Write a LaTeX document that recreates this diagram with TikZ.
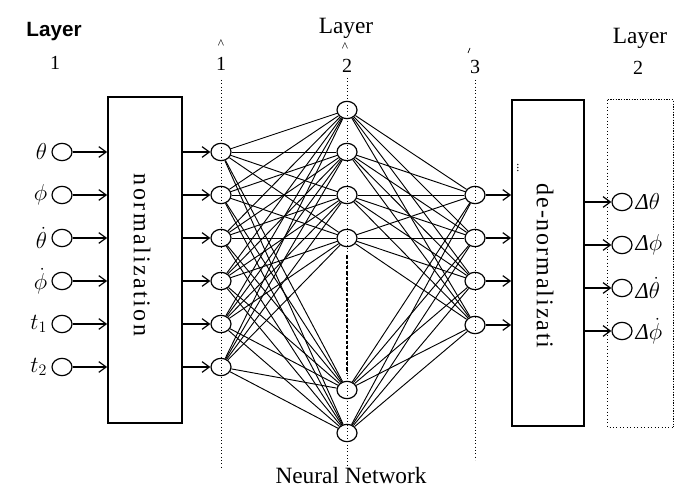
\documentclass[tikz,border=0pt]{standalone}
\usepackage{fontspec}
\setmainfont{Liberation Serif}
\newfontfamily\headsans{Liberation Sans}
\usetikzlibrary{arrows.meta,shapes.geometric,positioning}

\begin{document}
\begin{tikzpicture}[x=0.75pt,y=-0.75pt,
  unit/.style={ellipse, draw, line width=0.9pt, minimum width=15pt,
    minimum height=13pt, inner sep=0pt},
  link/.style={line width=0.7pt},
  feed/.style={line width=1.1pt,
    -{Straight Barb[length=5.5pt,width=8pt,line width=0.9pt]}},
  block/.style={draw, line width=1.3pt, inner sep=0pt},
  frame/.style={densely dotted, line width=1pt},
  lightframe/.style={dotted, line width=0.6pt},
  guide/.style={dotted, line width=0.5pt},
  skipdash/.style={line width=1.4pt, dash pattern=on 2.5pt off 1.5pt},
  big/.style={font=\fontsize{17.5}{20}\selectfont},
  digit/.style={font=\fontsize{15}{17}\selectfont},
  hatmark/.style={font=\fontsize{10}{10}\selectfont, inner sep=0pt},
  var/.style={font=\fontsize{17}{17}\selectfont, inner sep=0pt},
  boxtext/.style={rotate=-90, font=\fontsize{18}{20}\selectfont}
]
\useasboundingbox (0,0) rectangle (682,488);

% ---- headings ----
\node[font=\headsans\bfseries\fontsize{15.5}{18}\selectfont] (hl) at (54,32) {Layer};
\node[digit] (hl1) at (55,63) {1};
\node[big] (hc) at (346,28) {Layer};
\node[digit] (h1) at (221,64) {1};
\node[hatmark] (h1hat) at (221,44) {\^{}};
\node[digit] (h2) at (347,66) {2};
\node[hatmark] (h2hat) at (345,47) {\^{}};
\node[digit] (h3) at (475,67) {3};
\draw[line width=0.5pt] (468,53) -- (470,48);
\node[big] (hr) at (640,38) {Layer};
\node[digit] (hr2) at (638,68) {2};
\node[big] (nn) at (351,476) {Neural Network};

% ---- layer guide lines ----
\coordinate (g1t) at (221,80);  \coordinate (g1b) at (221,468);
\coordinate (g2t) at (347,78);  \coordinate (g2b) at (347,468);
\coordinate (g3t) at (475,80);  \coordinate (g3b) at (475,460);
\draw[guide] (g1t) -- (g1b);
\draw[guide] (g2t) -- (g2b);
\draw[guide] (g3t) -- (g3b);

% ---- input / output frames ----
\node[frame, minimum width=45pt, minimum height=242.25pt, inner sep=0pt] (inframe) at (48,258.5) {};
\node[minimum width=48.75pt, minimum height=245.25pt, inner sep=0pt] (outframe) at (640.5,263.5) {};
\draw[lightframe] (outframe.north west) -- (outframe.south west) -- (outframe.south east);
\draw[frame] (outframe.north west) -- (outframe.north east) -- (outframe.south east);

% ---- scaling blocks ----
\node[block, minimum width=55.5pt, minimum height=244.5pt] (norm) at (145,260) {};
\node[boxtext] (normtext) at (142,255) {\addfontfeature{LetterSpace=10}normalization};
\node[block, minimum width=54pt, minimum height=244.5pt] (denorm) at (548,263) {};
\node[boxtext] (denormtext) at (545,266) {\addfontfeature{LetterSpace=8}de-normalizati};
\node[rotate=-90, font=\fontsize{9}{9}\selectfont, inner sep=0pt] (denormdots) at (518,168) {...};

% ---- inputs ----
\foreach \i/\y/\lab in {1/152/\theta, 2/195/\phi, 3/238/\dot{\theta}, 4/281/\dot{\phi}, 5/324/t_1, 6/367/t_2}{
  \node[unit] (in\i) at (62,\y) {};
  \node[var, left=3pt of in\i] (inl\i) {$\lab$};
  \draw[feed] (in\i) -- (in\i -| norm.west);
}

% ---- hidden layers ----
\foreach \i/\y in {1/152, 2/195, 3/238, 4/281, 5/324, 6/367}{
  \node[unit] (a\i) at (221,\y) {};
  \draw[feed] (a\i -| norm.east) -- (a\i);
}
\foreach \j/\y in {1/110, 2/152, 3/195, 4/238, 5/390, 6/433}{
  \node[unit] (b\j) at (347,\y) {};
}
\foreach \k/\y in {1/195, 2/238, 3/281, 4/325}{
  \node[unit] (c\k) at (475,\y) {};
  \draw[feed] (c\k) -- (c\k -| denorm.west);
}
\draw[skipdash, shorten <=6pt, shorten >=6pt] (b4.south) -- (b5.north);

\foreach \i in {1,...,6}{
  \foreach \j in {1,...,6}{
    \draw[link] (a\i) -- (b\j);
  }
}
\foreach \j in {1,...,6}{
  \foreach \k in {1,...,4}{
    \draw[link] (b\j) -- (c\k);
  }
}

% ---- outputs ----
\foreach \k/\y/\lab in {1/202/\theta, 2/245/\phi, 3/288/\dot{\theta}, 4/331/\dot{\phi}}{
  \node[unit] (o\k) at (622,\y) {};
  \node[var, right=2pt of o\k] (ol\k) {\textit{Δ}$\lab$};
  \draw[feed] (o\k -| denorm.east) -- (o\k);
}
\end{tikzpicture}
\end{document}
